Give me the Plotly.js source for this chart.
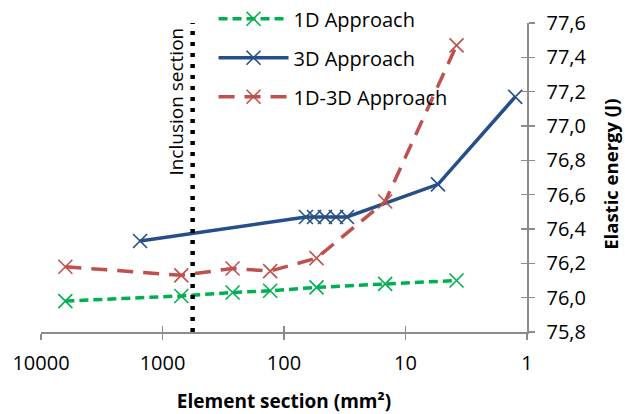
<!DOCTYPE html>
<html>
<head>
<meta charset="utf-8">
<script src="https://cdn.plot.ly/plotly-3.0.1.min.js"></script>
<style>html,body{margin:0;padding:0;background:#fff;}#chart{width:625px;height:414px;}</style>
</head>
<body>
<div id="chart"></div>
<script>
// Data
const section1D = [6300, 700, 265, 130, 54, 14.7, 3.8];
const energy1D = [75.98, 76.01, 76.03, 76.04, 76.06, 76.08, 76.10];

const section3D = [1530, 66, 56.6, 46, 37.3, 30.3, 5.4, 1.25];
const energy3D = [76.33, 76.47, 76.47, 76.47, 76.47, 76.47, 76.66, 77.17];

const section1D3D = [6300, 700, 265, 130, 54, 14.7, 3.8];
const energy1D3D = [76.18, 76.13, 76.17, 76.155, 76.23, 76.56, 77.47];

const inclusionSection = 565;
const yRange = [75.8, 77.6];
const xTickVals = [10000, 1000, 100, 10, 1];
const xTickText = ['10000', '1000', '100', '10', '1'];
const seriesNames = ['1D Approach', '3D Approach', '1D-3D Approach'];
const xTitle = '<b>Element section (mm²)</b>';
const yTitle = '<b>Elastic energy (J)</b>';

const FONT = 'Open Sans, Liberation Sans, sans-serif';
const axisGray = '#8c8c8c';

const traces = [
  {
    x: section1D, y: energy1D, name: seriesNames[0], type: 'scatter', mode: 'lines+markers',
    legendgroup: 'a',
    line: {color: '#00B050', width: 3.5, dash: '9px,5px'},
    marker: {symbol: 'x-thin', size: 14, line: {color: '#00B050', width: 1.6}}
  },
  {
    x: section3D, y: energy3D, name: seriesNames[1], type: 'scatter', mode: 'lines+markers',
    legendgroup: 'b',
    line: {color: '#264F8A', width: 3.5},
    marker: {symbol: 'x-thin', size: 14, line: {color: '#264F8A', width: 1.6}}
  },
  {
    x: section1D3D, y: energy1D3D, name: seriesNames[2], type: 'scatter', mode: 'lines+markers',
    legendgroup: 'c',
    line: {color: '#C0504D', width: 3.5, dash: '16px,10px'},
    marker: {symbol: 'x-thin', size: 14, line: {color: '#C0504D', width: 1.6}}
  },
  {
    x: [inclusionSection, inclusionSection], y: yRange, type: 'scatter', mode: 'lines',
    showlegend: false, hoverinfo: 'skip',
    line: {color: '#000', width: 4.5, dash: '4px,7px'}
  },
  {
    x: [], y: [], xaxis: 'x2', yaxis: 'y2', type: 'scatter', showlegend: false, hoverinfo: 'skip'
  }
];

const layout = {
  width: 625, height: 414,
  margin: {l: 41, r: 98, t: 23, b: 82, autoexpand: false},
  paper_bgcolor: '#fff', plot_bgcolor: '#fff',
  separators: ', ',
  font: {family: FONT, size: 20, color: '#000'},
  showlegend: true,
  legend: {
    x: 0.355, y: 1.077, xanchor: 'left', yanchor: 'top',
    bgcolor: 'rgba(0,0,0,0)', font: {family: FONT, size: 20, color: '#000'},
    tracegroupgap: 10, itemwidth: 70
  },
  xaxis: {
    type: 'log', range: [4, 0], tickvals: xTickVals, ticktext: xTickText, automargin: false,
    showgrid: false, zeroline: false, showline: true, linecolor: axisGray, linewidth: 1.5,
    ticks: 'outside', ticklen: 6, tickcolor: axisGray, tickwidth: 1.5,
    tickfont: {family: FONT, size: 20, color: '#000'}, ticklabelstandoff: 6,
    title: {text: xTitle, font: {family: FONT, size: 19, color: '#000'}, standoff: 24}
  },
  yaxis: {
    range: yRange, dtick: 0.2, tick0: 75.8, tickformat: '.1f', side: 'right', automargin: false,
    showgrid: false, zeroline: false, showline: true, linecolor: axisGray, linewidth: 1.5,
    ticks: 'outside', ticklen: 6, tickcolor: axisGray, tickwidth: 1.5,
    tickfont: {family: FONT, size: 20, color: '#000'}, ticklabelstandoff: 8
  },
  xaxis2: {
    type: 'log', range: [4, 0], tickvals: xTickVals, overlaying: 'x', anchor: 'y2',
    showgrid: false, zeroline: false, showline: false, showticklabels: false,
    ticks: 'inside', ticklen: 6, tickcolor: axisGray, tickwidth: 1.5
  },
  yaxis2: {
    range: yRange, dtick: 0.2, tick0: 75.8, overlaying: 'y', side: 'right', anchor: 'x2',
    showgrid: false, zeroline: false, showline: false, showticklabels: false,
    ticks: 'inside', ticklen: 6, tickcolor: axisGray, tickwidth: 1.5
  },
  annotations: [
    {
      text: 'Inclusion section', textangle: -90, showarrow: false,
      xref: 'x', yref: 'y', x: Math.log10(inclusionSection), y: 77.14,
      xanchor: 'center', yanchor: 'middle', xshift: -17,
      font: {family: FONT, size: 19, color: '#000'}
    },
    {
      text: yTitle, textangle: -90, showarrow: false,
      xref: 'paper', yref: 'paper', x: 1.1715, y: 0.51,
      xanchor: 'center', yanchor: 'middle', borderpad: 0,
      font: {family: FONT, size: 18.5, color: '#000'}
    }
  ]
};

Plotly.newPlot('chart', traces, layout, {displayModeBar: false, staticPlot: true});
</script>
</body>
</html>
